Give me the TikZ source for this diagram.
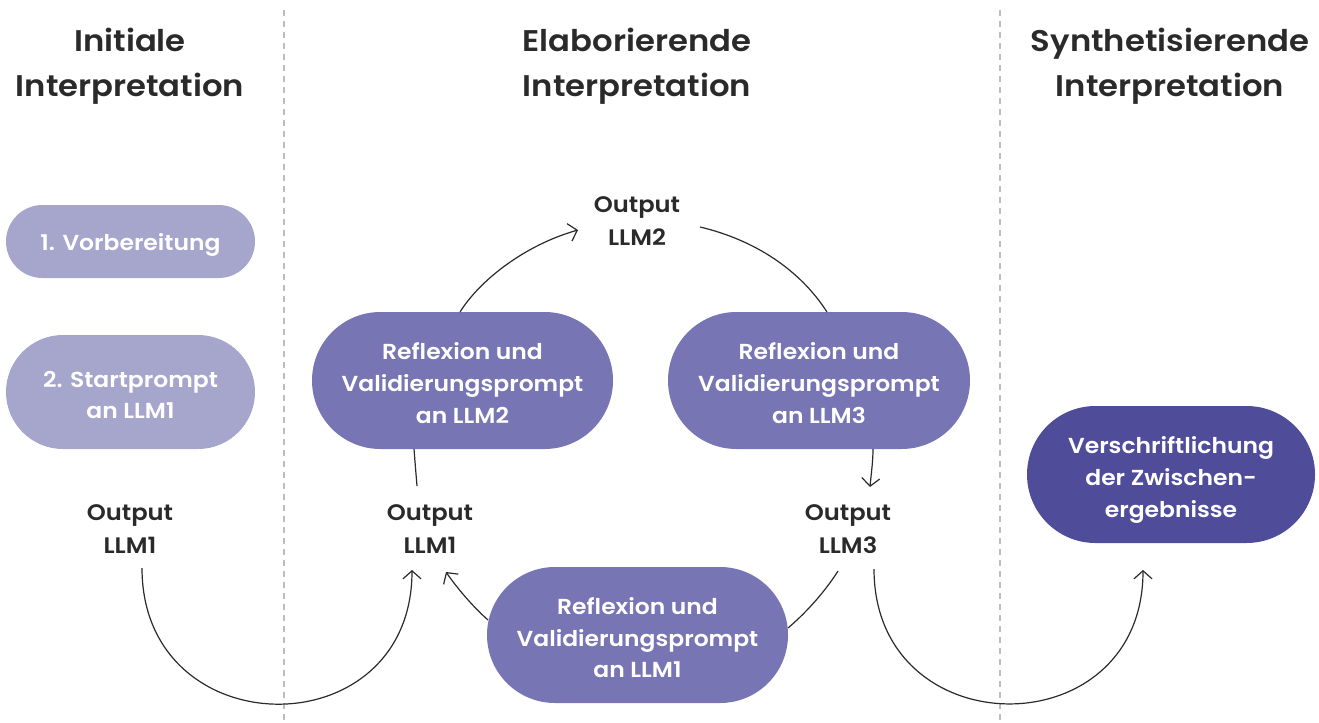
\documentclass[tikz,border=0pt]{standalone}
\usepackage{fontspec}
\setmainfont{Poppins}[BoldFont={* SemiBold}, FakeStretch=1.08]
\usetikzlibrary{arrows.meta,shapes.misc}
\definecolor{pilllight}{HTML}{A6A5CC}
\definecolor{pillmid}{HTML}{7775B3}
\definecolor{pilldark}{HTML}{4F4C9A}
\definecolor{ink}{HTML}{2A2A2A}
\definecolor{sep}{HTML}{BDBDBD}
\newcommand{\ps}{\rule[-7bp]{0pt}{31bp}}
\newcommand{\pst}{\rule[-7bp]{0pt}{36bp}}
\tikzset{
  pill/.style={rounded rectangle, inner sep=0pt, text=white, align=center,
    font=\bfseries\fontsize{21.8}{32}\selectfont},
  header/.style={align=center, text=ink, font=\bfseries\fontsize{30}{45}\selectfont},
  outlbl/.style={align=center, text=ink, inner sep=0pt, font=\bfseries\fontsize{22.5}{33}\selectfont},
  conn/.style={draw=ink, line width=1.2bp},
  arr/.style={conn, -{Straight Barb[length=8bp,width=18bp,line width=1.2bp]}},
  sepline/.style={draw=sep, line width=1.2bp, dash pattern=on 6bp off 5bp}
}
\begin{document}
\begin{tikzpicture}[x=1bp,y=-1bp]
\useasboundingbox (0,0) rectangle (1319,722);
% separators
\coordinate (s1t) at (284,10); \coordinate (s1b) at (284,722);
\coordinate (s2t) at (1000,10); \coordinate (s2b) at (1000,722);
\path[sepline] (s1t) -- (s1b);
\path[sepline] (s2t) -- (s2b);
% headers
\node[header] (h1) at (130,66) {Initiale\\Interpretation};
\node[header] (h2) at (637,66) {Elaborierende\\Interpretation};
\node[header] (h3) at (1170,66) {Synthetisierende\\Interpretation};
% left column
\node[pill, fill=pilllight, minimum width=249bp, minimum height=73bp] (vor) at (130.5,241.5) {\ps 1. Vorbereitung\ps};
\node[pill, fill=pilllight, minimum width=249bp, minimum height=114bp] (start) at (130.5,392) {\pst 2. Startprompt\\an LLM1\ps};
\node[outlbl] (o1a) at (130,529) {Output\\LLM1};
% middle
\node[outlbl] (o2) at (637,221) {Output\\LLM2};
\node[outlbl] (o1b) at (430,529) {Output\\LLM1};
\node[outlbl] (o3) at (848,529) {Output\\LLM3};
\node[pill, fill=pillmid, minimum width=301bp, minimum height=137bp] (r2) at (462.5,380.5) {\pst Reflexion und\\Validierungsprompt\\an LLM2\ps};
\node[pill, fill=pillmid, minimum width=302bp, minimum height=137bp] (r3) at (819,380.5) {\pst Reflexion und\\Validierungsprompt\\an LLM3\ps};
\node[pill, fill=pillmid, minimum width=301bp, minimum height=136bp] (r1) at (637.5,635) {\pst Reflexion und\\Validierungsprompt\\an LLM1\ps};
% right
\node[pill, fill=pilldark, minimum width=288bp, minimum height=137bp] (ver) at (1171,474.5) {\pst Verschriftlichung\\der Zwischen-\\ergebnisse\ps};
% connector end points
\coordinate (a1s) at (142,568);
\coordinate (a1e) at (412,570);
\coordinate (a2s) at (488,620);
\coordinate (a2e) at (446,572);
\coordinate (a3s) at (788,628);
\coordinate (a3e) at (838,571);
\coordinate (a4s) at (874,569);
\coordinate (a4e) at (1143,570);
\coordinate (a5s) at (414,449);
\coordinate (a5e) at (417,486);
\coordinate (a6s) at (460,312);
\coordinate (a6e) at (578,230);
\coordinate (a7s) at (700,227);
\coordinate (a7e) at (827,312);
\coordinate (a8s) at (873,449);
\coordinate (a8e) at (870,487);
% connectors
\draw[arr] (a1s) .. controls +(0,180) and +(0,180) .. (a1e);
\draw[arr] (a2s) .. controls (470,604) and (455,585) .. (a2e);
\draw[conn] (a3e) .. controls (826,590) and (808,611) .. (a3s);
\draw[arr] (a4s) .. controls +(0,179) and +(0,179) .. (a4e);
\draw[conn] (a5s) .. controls (415,462) and (416,474) .. (a5e);
\draw[arr] (a6s) .. controls (480,280) and (525,245) .. (a6e);
\draw[conn] (a7s) .. controls (755,240) and (800,270) .. (a7e);
\draw[arr] (a8s) .. controls (873,462) and (871,475) .. (a8e);
\end{tikzpicture}
\end{document}
